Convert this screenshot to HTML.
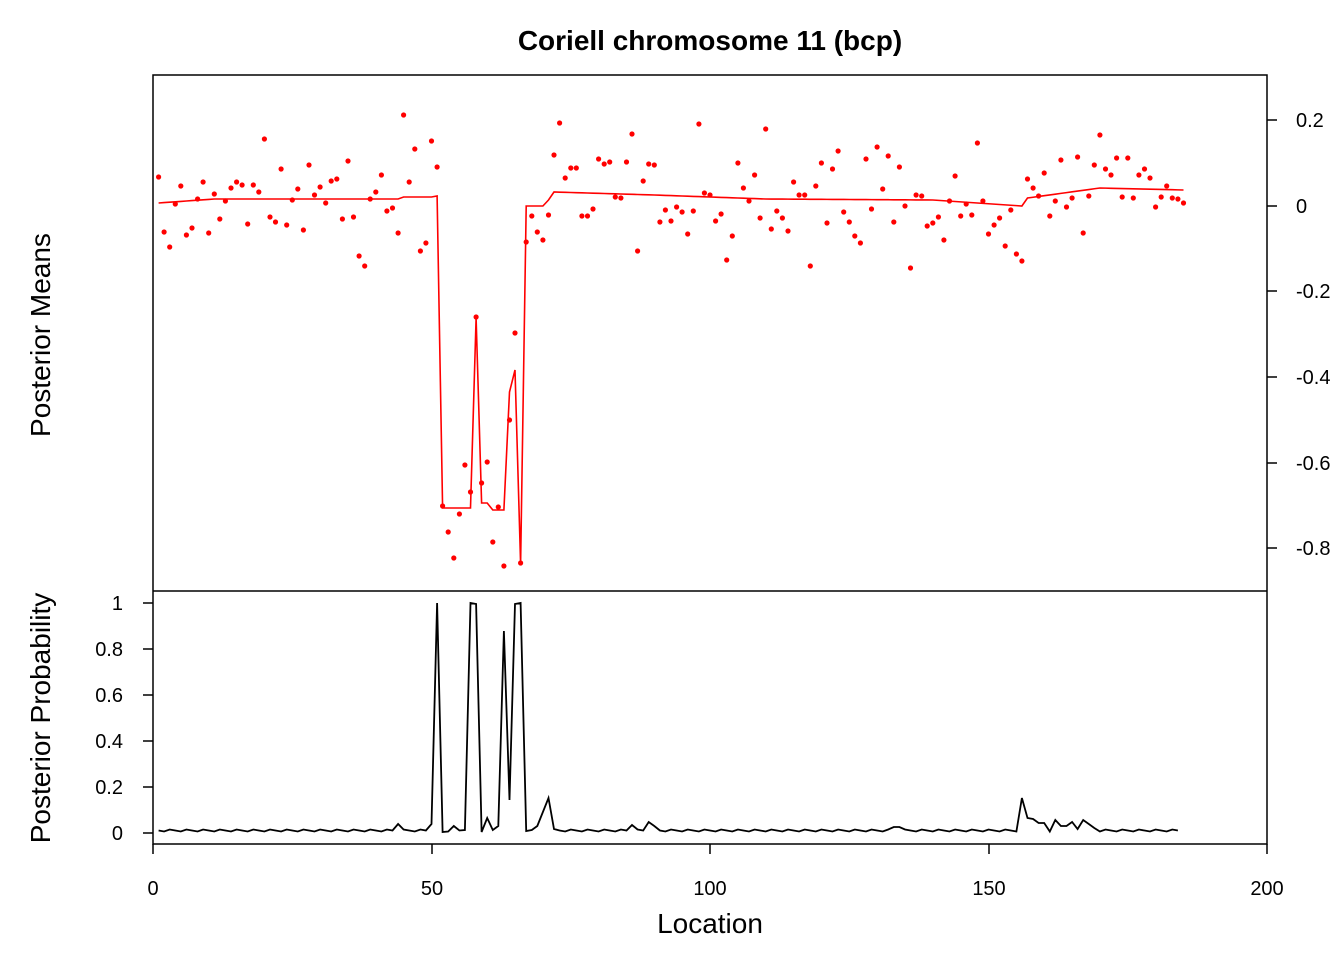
<!DOCTYPE html>
<html><head><meta charset="utf-8"><style>
body{margin:0;background:#fff}
svg{display:block;font-family:"Liberation Sans",Arial,sans-serif}
</style></head><body>
<svg id="s" width="1344" height="960" viewBox="0 0 1344 960" xmlns="http://www.w3.org/2000/svg">
<rect width="1344" height="960" fill="#fff"/>
<text x="710" y="50" text-anchor="middle" font-size="28" font-weight="bold">Coriell chromosome 11 (bcp)</text>
<rect x="153" y="75" width="1114" height="769" fill="none" stroke="#000" stroke-width="1.5"/>
<line x1="153" y1="591" x2="1267" y2="591" stroke="#000" stroke-width="1.5"/>
<g stroke="#000" stroke-width="1.5">
<line x1="1267" y1="120" x2="1277" y2="120"/><line x1="1267" y1="206" x2="1277" y2="206"/><line x1="1267" y1="291" x2="1277" y2="291"/><line x1="1267" y1="377" x2="1277" y2="377"/><line x1="1267" y1="463" x2="1277" y2="463"/><line x1="1267" y1="548" x2="1277" y2="548"/>
<line x1="143" y1="603" x2="153" y2="603"/><line x1="143" y1="649" x2="153" y2="649"/><line x1="143" y1="695" x2="153" y2="695"/><line x1="143" y1="741" x2="153" y2="741"/><line x1="143" y1="787" x2="153" y2="787"/><line x1="143" y1="833" x2="153" y2="833"/>
<line x1="153" y1="844" x2="153" y2="854"/><line x1="432" y1="844" x2="432" y2="854"/><line x1="710" y1="844" x2="710" y2="854"/><line x1="989" y1="844" x2="989" y2="854"/><line x1="1267" y1="844" x2="1267" y2="854"/>
</g>
<g font-size="20">
<text x="1296" y="127">0.2</text><text x="1296" y="213">0</text><text x="1296" y="298">-0.2</text><text x="1296" y="384">-0.4</text><text x="1296" y="470">-0.6</text><text x="1296" y="555">-0.8</text>
<g text-anchor="end"><text x="123" y="610">1</text><text x="123" y="656">0.8</text><text x="123" y="702">0.6</text><text x="123" y="748">0.4</text><text x="123" y="794">0.2</text><text x="123" y="840">0</text></g>
<g text-anchor="middle"><text x="153" y="895">0</text><text x="432" y="895">50</text><text x="710" y="895">100</text><text x="989" y="895">150</text><text x="1267" y="895">200</text></g>
</g>
<text x="710" y="933" text-anchor="middle" font-size="28">Location</text>
<text transform="translate(50,335) rotate(-90)" text-anchor="middle" font-size="28">Posterior Means</text>
<text transform="translate(50,718) rotate(-90)" text-anchor="middle" font-size="28">Posterior Probability</text>
<g id="g"></g>
</svg>
<script>
var P=[177,232,247,204,186,235,228,199,182,233,194,219,201,188,182,185,224,185,192,139,217,222,169,225,200,189,230,165,195,187,203,181,179,219,161,217,256,266,199,192,175,211,208,233,115,182,149,251,243,141,167,506,532,558,514,465,492,317,483,462,542,507,566,420,333,563,242,216,232,240,215,155,123,178,168,168,216,216,209,159,164,162,197,198,162,134,251,181,164,165,222,210,221,207,212,234,211,124,193,195,221,214,260,236,163,188,201,175,218,129,229,211,218,231,182,195,195,266,186,163,223,169,151,212,222,236,243,159,209,147,189,156,222,167,206,268,195,196,226,223,217,240,201,176,216,204,215,143,201,234,225,218,246,210,254,261,179,188,196,173,216,201,160,207,198,157,233,196,165,135,169,175,158,197,158,198,175,169,178,207,197,186,198,199,203];
function X(i){return 153+5.57*i;}
var M=[];
for(var i=1;i<=185;i++){var v;
if(i<=10)v=203-0.4*(i-1);else if(i<=44)v=199;else if(i<=50)v=197;else if(i==51)v=196;
else if(i<=57)v=508;else if(i==58)v=318;else if(i<=60)v=503;else if(i<=63)v=510;else if(i==64)v=392;else if(i==65)v=370;else if(i==66)v=564;
else if(i<=70)v=206;else if(i==71)v=200;else if(i<=90)v=192+3*(i-72)/18;else if(i<=110)v=195+4*(i-90)/20;else if(i<=140)v=199+(i-110)/30;else if(i<=156)v=200+6*(i-140)/16;
else if(i<=170)v=198-10*(i-157)/13;else v=188+2*(i-170)/15;M.push(v);}
var B={44:824,50:824,51:603,52:832,54:826,56:830,57:603,58:604,59:832,60:818,61:830,62:826,63:631,64:800,65:604,66:603,67:831,68:830,69:826,70:812,71:798,72:829,86:825,89:822,90:826,133:827,134:827,156:798,157:818,158:819,159:823,160:823,162:820,163:826,164:826,165:822,166:829,167:820,168:824,169:828};
var pp=[],pm=[],c="";
for(var i=1;i<=184;i++){var y=B[i]||(830.5+((i*7)%3)-1);pp.push(X(i).toFixed(1)+","+y);}
for(var i=1;i<=185;i++){pm.push(X(i).toFixed(1)+","+M[i-1]);c+='<circle cx="'+X(i).toFixed(1)+'" cy="'+P[i-1]+'" r="2.6" fill="#f00"/>';}
document.getElementById('g').innerHTML='<polyline points="'+pm.join(" ")+'" fill="none" stroke="#f00" stroke-width="1.6"/>'+c+'<polyline points="'+pp.join(" ")+'" fill="none" stroke="#000" stroke-width="1.8"/>';
</script>
</body></html>
